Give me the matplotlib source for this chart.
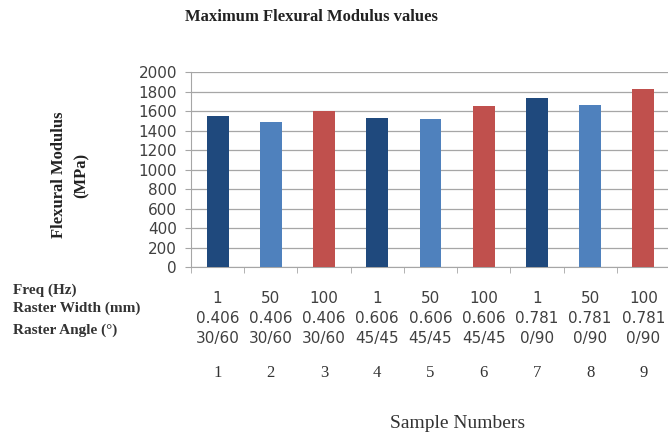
import matplotlib
matplotlib.use("Agg")
import matplotlib.pyplot as plt
import matplotlib.transforms as mtransforms
import numpy as np

samples = [1, 2, 3, 4, 5, 6, 7, 8, 9]
freq = ["1", "50", "100", "1", "50", "100", "1", "50", "100"]
raster_width = ["0.406", "0.406", "0.406", "0.606", "0.606", "0.606", "0.781", "0.781", "0.781"]
raster_angle = ["30/60", "30/60", "30/60", "45/45", "45/45", "45/45", "0/90", "0/90", "0/90"]
modulus = [1550, 1490, 1600, 1530, 1525, 1655, 1735, 1670, 1835]

bar_colors = ["#1F497D", "#4F81BD", "#C0504D"] * 3
serif = "Liberation Serif"

fig = plt.figure(figsize=(6.68, 4.33), dpi=100)
ax = fig.add_axes([0.2859, 0.3834, 0.7171, 0.4492])

x = np.arange(len(samples))
ax.bar(x, modulus, width=0.41, color=bar_colors, zorder=3)

ax.set_xlim(-0.5, len(samples) - 0.5)
ax.set_ylim(0, 2000)
ax.set_yticks(np.arange(0, 2001, 200))
ax.yaxis.grid(True, color="#A6A6A6", linewidth=0.9, zorder=0)
ax.tick_params(axis="y", labelsize=11, labelcolor="#404040", length=4, color="#A6A6A6", pad=6)

# category separators on the x axis
ax.set_xticks(np.arange(-0.5, len(samples)), minor=True)
ax.tick_params(axis="x", which="minor", length=4, color="#A6A6A6")
labels = [f"{f}\n{w}\n{a}" for f, w, a in zip(freq, raster_width, raster_angle)]
ax.set_xticks(x)
ax.set_xticklabels(labels, linespacing=1.45)
ax.tick_params(axis="x", which="major", length=0, pad=17, labelsize=11, labelcolor="#404040")

for side in ["top", "right"]:
    ax.spines[side].set_visible(False)
ax.spines["left"].set_color("#A6A6A6")
ax.spines["bottom"].set_color("#A6A6A6")

# sample number row
trans = mtransforms.blended_transform_factory(ax.transData, fig.transFigure)
for xi, s in zip(x, samples):
    ax.text(xi, 1 - 373 / 433, str(s), transform=trans, ha="center", va="center",
            fontsize=12, family=serif, color="#333333")

fig.text(311 / 668, 1 - 17 / 433, "Maximum Flexural Modulus values", ha="center", va="center",
         fontsize=12, family=serif, weight="bold", color="#222222")
fig.text(70 / 668, 1 - 175 / 433, "Flexural Modulus\n(MPa)", rotation=90, ha="center", va="center",
         fontsize=12, family=serif, weight="bold", color="#222222", linespacing=1.55)
fig.text(458 / 668, 1 - 423 / 433, "Sample Numbers", ha="center", va="center",
         fontsize=14, family=serif, color="#333333")

row_names = ["Freq (Hz)", "Raster Width (mm)", "Raster Angle (°)"]
row_y = [290, 308, 330]
for name, yy in zip(row_names, row_y):
    fig.text(13 / 668, 1 - yy / 433, name, ha="left", va="center",
             fontsize=11, family=serif, weight="bold", color="#333333")

fig.savefig("out.png", dpi=100)
